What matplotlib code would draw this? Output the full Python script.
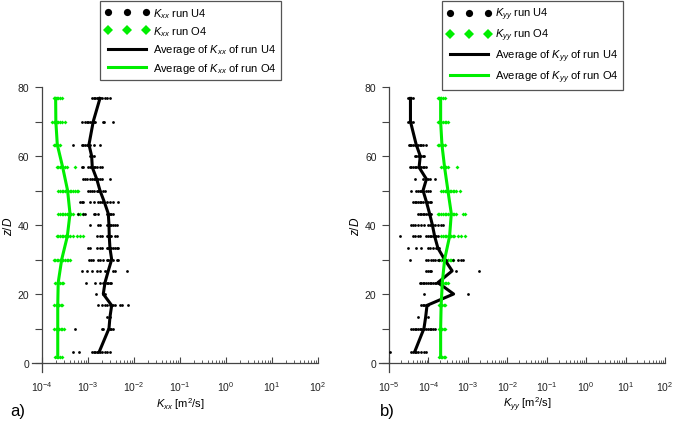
import matplotlib
matplotlib.use("Agg")
import matplotlib.pyplot as plt
import numpy as np
from matplotlib.ticker import FixedLocator, LogLocator, MultipleLocator, NullFormatter

plt.rcParams['font.family'] = ['Liberation Sans', 'DejaVu Sans']
plt.rcParams['mathtext.fontset'] = 'custom'
plt.rcParams['mathtext.rm'] = 'Liberation Sans'
plt.rcParams['mathtext.it'] = 'Liberation Sans:italic'

GREEN = '#00ee00'
AXC = '#444444'

# heights z/D of the measurement levels
z_u4 = [76.7, 70, 63.3, 60, 56.7, 53.3, 50, 46.7, 43.3, 40, 36.7, 33.3,
        30, 26.7, 23.3, 20, 16.7, 13.3, 10, 3.3]
z_o4 = [76.7, 70, 63.3, 56.7, 50, 43.3, 36.7, 30, 23.3, 16.7, 10, 1.7]

# ---- panel a) Kxx ----
kxx_u4_avg = [1.82e-3, 1.30e-3, 1.05e-3, 1.20e-3, 1.24e-3, 1.55e-3, 1.82e-3,
              2.26e-3, 2.76e-3, 2.86e-3, 2.90e-3, 3.0e-3, 3.27e-3, 2.76e-3,
              2.34e-3, 2.15e-3, 3.27e-3, 3.0e-3, 2.86e-3, 1.76e-3]
kxx_o4_avg = [1.98e-4, 2.0e-4, 2.15e-4, 2.82e-4, 3.6e-4, 4.06e-4, 3.55e-4,
              2.68e-4, 2.25e-4, 2.2e-4, 2.2e-4, 2.2e-4]
# single samples, log10(Kxx)
kxx_u4_log = [
    [-2.92, -2.88, -2.85, -2.81, -2.78, -2.74, -2.70, -2.63, -2.59, -2.52],
    [-3.12, -3.07, -3.03, -2.99, -2.96, -2.92, -2.88, -2.85, -2.68, -2.65, -2.45],
    [-3.32, -3.14, -3.10, -3.07, -3.03, -2.99, -2.96, -2.88, -2.75],
    [-2.96, -2.92, -2.88],
    [-3.14, -3.10, -2.99, -2.96, -2.92, -2.88, -2.85, -2.81, -2.74, -2.70],
    [-3.10, -3.07, -3.03, -2.96, -2.92, -2.88, -2.85, -2.78, -2.74, -2.70, -2.52],
    [-2.99, -2.96, -2.92, -2.88, -2.81, -2.78, -2.74, -2.67, -2.63],
    [-3.17, -3.14, -3.10, -2.96, -2.88, -2.78, -2.74, -2.70, -2.59, -2.52, -2.45, -2.34],
    [-3.21, -3.10, -3.07, -2.88, -2.85, -2.78, -2.59, -2.56, -2.52, -2.49, -2.45],
    [-2.96, -2.78, -2.74, -2.59, -2.52, -2.49, -2.45, -2.41, -2.38],
    [-2.81, -2.74, -2.70, -2.59, -2.56, -2.52, -2.49, -2.41, -2.38],
    [-2.99, -2.96, -2.81, -2.74, -2.70, -2.59, -2.56, -2.52, -2.49, -2.45, -2.41, -2.38, -2.34],
    [-2.97, -2.94, -2.90, -2.78, -2.74, -2.67, -2.59, -2.56, -2.52, -2.45, -2.38, -2.34],
    [-3.12, -3.03, -2.92, -2.81, -2.74, -2.63, -2.59, -2.45, -2.41, -2.16],
    [-3.04, -2.85, -2.74, -2.67, -2.63, -2.59, -2.56, -2.52, -2.49],
    [-2.83, -2.67, -2.63],
    [-2.78, -2.70, -2.63, -2.59, -2.52, -2.49, -2.45, -2.41, -2.30, -2.27, -2.12],
    [-2.59, -2.52],
    [-3.28, -2.70, -2.67, -2.56, -2.52, -2.49, -2.45],
    [-3.32, -3.19, -2.92, -2.88, -2.85, -2.81, -2.78, -2.74, -2.70, -2.63, -2.59, -2.52],
]
kxx_o4_log = [
    [-3.75, -3.72, -3.68, -3.65, -3.61, -3.57],
    [-3.79, -3.75, -3.72, -3.68, -3.65, -3.61, -3.57, -3.50],
    [-3.75, -3.72, -3.68, -3.65, -3.61],
    [-3.68, -3.65, -3.61, -3.57, -3.54, -3.50, -3.46, -3.28],
    [-3.65, -3.61, -3.57, -3.54, -3.50, -3.46, -3.43, -3.39, -3.36, -3.32, -3.28, -3.25, -3.21],
    [-3.65, -3.61, -3.57, -3.54, -3.50, -3.46, -3.43, -3.39, -3.36, -3.32, -3.21, -3.17, -3.10],
    [-3.68, -3.65, -3.61, -3.57, -3.54, -3.50, -3.46, -3.43, -3.39, -3.32, -3.25, -3.17, -3.10],
    [-3.75, -3.72, -3.68, -3.65, -3.61, -3.57, -3.54, -3.50, -3.46, -3.43, -3.39],
    [-3.72, -3.68, -3.65, -3.61, -3.57, -3.54],
    [-3.74, -3.70, -3.67, -3.63, -3.59, -3.56],
    [-3.74, -3.70, -3.67, -3.63, -3.59, -3.56, -3.52],
    [-3.72, -3.68, -3.65, -3.61, -3.57],
]

# ---- panel b) Kyy ----
kyy_u4_avg = [3.5e-5, 3.5e-5, 4.9e-5, 6.2e-5, 5.8e-5, 8.9e-5, 7.3e-5, 8.9e-5,
              1.07e-4, 1.26e-4, 1.44e-4, 1.74e-4, 2.57e-4, 4.0e-4, 1.74e-4,
              4.35e-4, 9.2e-5, 8.5e-5, 7.7e-5, 4.5e-5]
kyy_o4_avg = [2.04e-4, 2.04e-4, 2.2e-4, 2.57e-4, 3.12e-4, 3.8e-4, 3.44e-4,
              2.57e-4, 2.25e-4, 2.1e-4, 2.04e-4, 2.04e-4]
kyy_u4_log = [
    [-4.52, -4.48, -4.43, -4.39],
    [-4.52, -4.48, -4.43, -4.39],
    [-4.49, -4.46, -4.43, -4.39, -4.35, -4.31, -4.27, -4.22, -4.18, -4.14, -4.05],
    [-4.35, -4.31, -4.27, -4.22, -4.18, -4.14, -4.10],
    [-4.48, -4.43, -4.39, -4.35, -4.31, -4.27, -4.22, -4.18, -4.14, -4.10, -4.05],
    [-4.35, -4.14, -4.05, -4.01, -3.97, -3.84],
    [-4.43, -4.31, -4.27, -4.22, -4.18, -4.14, -4.05, -4.01, -3.97],
    [-4.39, -4.35, -4.31, -4.27, -4.22, -4.18, -4.14, -4.05, -4.01, -3.97, -3.93],
    [-4.27, -4.22, -4.18, -4.14, -4.10, -4.05, -4.01, -3.97, -3.93],
    [-4.43, -4.39, -4.35, -4.27, -4.18, -4.10, -4.01, -3.97, -3.89, -3.84, -3.76, -3.67, -3.63],
    [-4.73, -4.39, -4.35, -4.27, -4.22, -4.05, -4.01, -3.97, -3.93, -3.89, -3.84, -3.80, -3.76],
    [-4.52, -4.31, -4.18, -4.01, -3.97, -3.89, -3.80, -3.76, -3.72],
    [-4.48, -4.05, -4.01, -3.93, -3.89, -3.84, -3.76, -3.72, -3.63, -3.55, -3.38, -3.25, -3.17, -3.13],
    [-4.05, -4.01, -3.97, -3.93, -3.30, -2.72],
    [-4.22, -4.18, -4.14, -4.10, -4.05, -4.01, -3.97, -3.93, -3.89, -3.84, -3.80, -3.76, -3.72],
    [-4.10, -3.00],
    [-4.18, -4.14, -4.10, -4.05, -4.01],
    [-4.27, -4.01],
    [-4.43, -4.39, -4.35, -4.31, -4.27, -4.22, -4.18, -4.14, -4.10, -4.05, -4.01, -3.97, -3.93, -3.89, -3.84],
    [-4.98, -4.43, -4.39, -4.35, -4.31, -4.27, -4.18, -4.10, -4.05],
]
kyy_o4_log = [
    [-3.76, -3.72, -3.67, -3.63, -3.59],
    [-3.76, -3.72, -3.67, -3.63, -3.59, -3.55, -3.51],
    [-3.76, -3.72, -3.67, -3.63, -3.59],
    [-3.67, -3.63, -3.59, -3.55, -3.51, -3.28],
    [-3.67, -3.63, -3.59, -3.55, -3.51, -3.46, -3.42, -3.38, -3.34, -3.30, -3.21],
    [-3.76, -3.72, -3.67, -3.63, -3.59, -3.55, -3.51, -3.46, -3.42, -3.38, -3.34, -3.30, -3.13, -3.08],
    [-3.67, -3.63, -3.59, -3.55, -3.51, -3.46, -3.42, -3.38, -3.34, -3.25, -3.17, -3.08],
    [-3.72, -3.67, -3.63, -3.59, -3.55, -3.51, -3.46, -3.42, -3.38],
    [-3.72, -3.67, -3.63, -3.59, -3.55, -3.51],
    [-3.73, -3.69, -3.65, -3.61, -3.57],
    [-3.73, -3.69, -3.65, -3.61, -3.57],
    [-3.73, -3.69, -3.65, -3.61, -3.57],
]


def flatten(levels, vals):
    xs, ys = [], []
    for z, row in zip(levels, vals):
        xs += [10.0 ** v for v in row]
        ys += [z] * len(row)
    return xs, ys


def panel(ax, name, u4_log, o4_log, u4_avg, o4_avg, emin, letter, letter_x):
    k = '$K_{%s}$' % name
    xs, ys = flatten(z_o4, o4_log)
    ax.plot(xs, ys, 'D', color=GREEN, ms=2.0, mew=0, label=k + ' run O4', zorder=2)
    xs, ys = flatten(z_u4, u4_log)
    ax.plot(xs, ys, 'o', color='black', ms=2.0, mew=0, label=k + ' run U4', zorder=3)
    ax.plot(u4_avg, z_u4, color='black', lw=2.2, label='Average of ' + k + ' of run U4', zorder=4)
    ax.plot(o4_avg, z_o4, color=GREEN, lw=2.2, label='Average of ' + k + ' of run O4', zorder=4)

    ax.set_xscale('log')
    ax.set_xlim(10.0 ** emin, 1e2)
    ax.set_ylim(0, 80)
    ax.xaxis.set_major_locator(FixedLocator([10.0 ** e for e in range(emin, 3)]))
    ax.xaxis.set_minor_locator(LogLocator(base=10, subs=np.arange(2, 10), numticks=100))
    ax.xaxis.set_minor_formatter(NullFormatter())
    ax.yaxis.set_major_locator(MultipleLocator(20))
    ax.yaxis.set_minor_locator(MultipleLocator(10))
    for s in ['top', 'right']:
        ax.spines[s].set_visible(False)
    for s in ['left', 'bottom']:
        ax.spines[s].set_color(AXC)
        ax.spines[s].set_linewidth(0.9)
    ax.tick_params(axis='x', which='major', direction='in', length=4, width=0.8,
                   color=AXC, labelsize=7.5, labelcolor='#222222', pad=12)
    ax.tick_params(axis='x', which='minor', direction='in', length=2.5, width=0.6, color=AXC)
    ax.tick_params(axis='y', which='both', direction='out', length=5, width=0.8,
                   color=AXC, labelsize=7.5, labelcolor='#222222', pad=4)
    # small spine overhang past the origin
    ax.plot([-0.035, 0], [0, 0], transform=ax.transAxes, color=AXC, lw=0.9, clip_on=False)
    ax.plot([0, 0], [-0.033, 0], transform=ax.transAxes, color=AXC, lw=0.9, clip_on=False)

    ax.set_xlabel(k + ' [m$^2$/s]', fontsize=8, labelpad=1)
    ax.set_ylabel('$z/D$', fontsize=8.5, labelpad=2)
    ax.text(letter_x, 0.035, letter, transform=ax.figure.transFigure, fontsize=12)

    h, l = ax.get_legend_handles_labels()
    order = [1, 0, 2, 3]
    return [h[i] for i in order], [l[i] for i in order]


fig = plt.figure(figsize=(6.75, 4.31), dpi=100)
ax1 = fig.add_axes([42 / 675, 1 - 364 / 431, 276 / 675, 276 / 431])
ax2 = fig.add_axes([389 / 675, 1 - 364 / 431, 276 / 675, 276 / 431])

h1, l1 = panel(ax1, 'xx', kxx_u4_log, kxx_o4_log, kxx_u4_avg, kxx_o4_avg, -4, 'a)', 10 / 675)
h2, l2 = panel(ax2, 'yy', kyy_u4_log, kyy_o4_log, kyy_u4_avg, kyy_o4_avg, -5, 'b)', 380 / 675)

for ax, h, l, x0 in [(ax1, h1, l1, 100 / 675), (ax2, h2, l2, 442 / 675)]:
    leg = ax.legend(h, l, loc='upper left', bbox_to_anchor=(x0, 1 - 2 / 431),
                    bbox_transform=fig.transFigure, fontsize=8, numpoints=3,
                    markerscale=2.6, handlelength=4.0, handletextpad=0.3,
                    labelspacing=0.4, borderpad=0.45, borderaxespad=0,
                    fancybox=False, framealpha=1)
    leg.get_frame().set_edgecolor('#555555')
    leg.get_frame().set_linewidth(0.9)

fig.savefig('out.png', dpi=100)
